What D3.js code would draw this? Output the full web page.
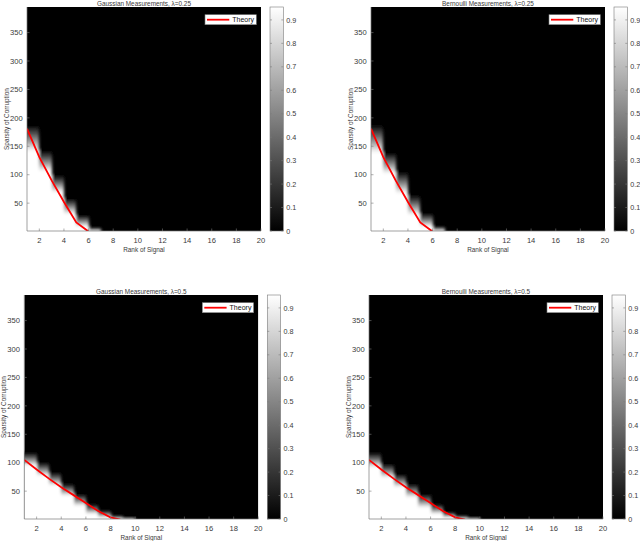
<!DOCTYPE html>
<html>
<head>
<meta charset="utf-8">
<script src="https://cdn.jsdelivr.net/npm/d3@7"></script>
<style>
  body { margin: 0; background: #fff; }
  svg { display: block; font-family: "Liberation Sans", Arial, Helvetica, sans-serif; }
</style>
</head>
<body>
<svg id="chart" width="640" height="541"></svg>
<script>
// ---- data ----
const rankTicks = [2, 4, 6, 8, 10, 12, 14, 16, 18, 20]
const sparsityTicks = [50, 100, 150, 200, 250, 300, 350]
const colorTicks = [0, 0.1, 0.2, 0.3, 0.4, 0.5, 0.6, 0.7, 0.8, 0.9]
const colorMax = 0.955

// theory curves (rank -> sparsity)
const theoryRank025 = [1, 2, 3, 4, 5, 6]
const theorySparsity025 = [181, 131, 90, 52, 16, 0]
const theoryRank05 = [1, 2, 3, 4, 5, 6, 7, 8, 8.8]
const theorySparsity05 = [105, 88, 72, 57, 43, 29, 15, 4, 0]

// heatmap columns [r, r+1], r = 1..19:
// *Black = sparsity above which success is 0, *White = below which success is ~1
const gauss025Black = [186, 141, 98, 57, 28, 6]
const gauss025White = [140, 105, 68, 30, 8, 0]
const bern025Black = [187, 138, 104, 63, 31, 8]
const bern025White = [137, 101, 66, 28, 8, 0]
const gauss05Black = [117, 100, 82, 62, 44, 26, 15, 6, 2]
const gauss05White = [94, 76, 59, 41, 23, 9, 3, 0, 0]
const bern05Black = [117, 97, 79, 62, 44, 26, 12, 6, 2]
const bern05White = [91, 73, 56, 38, 20, 9, 3, 0, 0]

const panels = [
  { title: "Gaussian Measurements, λ=0.25", x: 27, y: 7, black: gauss025Black, white: gauss025White,
    tr: theoryRank025, ts: theorySparsity025 },
  { title: "Bernoulli Measurements, λ=0.25", x: 371, y: 7, black: bern025Black, white: bern025White,
    tr: theoryRank025, ts: theorySparsity025 },
  { title: "Gaussian Measurements, λ=0.5", x: 24.3, y: 295, black: gauss05Black, white: gauss05White,
    tr: theoryRank05, ts: theorySparsity05 },
  { title: "Bernoulli Measurements, λ=0.5", x: 369, y: 295, black: bern05Black, white: bern05White,
    tr: theoryRank05, ts: theorySparsity05 },
]

const W = 234
const H = 224
const cbGap = 9
const cbW = 13.3
const axisColor = "#7a7a7a"
const textColor = "#3a3a3a"

const svg = d3.select("#chart")
const defs = svg.append("defs")
defs.append("filter").attr("id", "soft")
  .attr("x", "-5%").attr("y", "-5%").attr("width", "110%").attr("height", "110%")
  .append("feGaussianBlur").attr("stdDeviation", 1.4)

const grad = defs.append("linearGradient").attr("id", "cbgrad")
  .attr("x1", 0).attr("y1", 1).attr("x2", 0).attr("y2", 0)
grad.append("stop").attr("offset", 0).attr("stop-color", "#000")
grad.append("stop").attr("offset", 1).attr("stop-color", "#fff")

const gray = d3.scaleLinear().domain([0, colorMax]).range(["#000", "#fff"]).clamp(true)
const rampStops = d3.range(0, 11).map((k) => k / 10)

panels.forEach((p, pi) => {
  const x = d3.scaleLinear().domain([1, 20]).range([p.x, p.x + W])
  const y = d3.scaleLinear().domain([1, 395]).range([p.y + H, p.y])
  const g = svg.append("g")

  defs.append("clipPath").attr("id", "clip" + pi)
    .append("rect").attr("x", p.x).attr("y", p.y).attr("width", W).attr("height", H)

  const plot = g.append("g").attr("clip-path", `url(#clip${pi})`)
  plot.append("rect").attr("x", p.x).attr("y", p.y).attr("width", W).attr("height", H).attr("fill", "#000")

  // one column per rank step, success ramp from white to black
  const cols = p.black.map((b, c) => ({ r: c + 1, black: b, white: p.white[c] || 0, id: `col${pi}_${c}` }))
    .filter((d) => d.black > 0)
  cols.forEach((d) => {
    const lg = defs.append("linearGradient").attr("id", d.id).attr("gradientUnits", "userSpaceOnUse")
      .attr("x1", 0).attr("x2", 0).attr("y1", y(d.white)).attr("y2", y(d.black))
    rampStops.forEach((t) => lg.append("stop").attr("offset", t).attr("stop-color", gray(1 - t)))
  })
  plot.append("g").attr("filter", "url(#soft)")
    .selectAll("rect").data(cols).join("rect")
    .attr("shape-rendering", "crispEdges")
    .attr("x", (d) => (d.r === 1 ? x(d.r) - 6 : x(d.r)))
    .attr("width", (d) => x(d.r + 1) - x(d.r) + (d.r === 1 ? 6 : 0))
    .attr("y", (d) => y(d.black + 2))
    .attr("height", (d) => y(-10) - y(d.black + 2))
    .attr("fill", (d) => `url(#${d.id})`)

  // theory line
  const line = d3.line().x((d) => x(d[0])).y((d) => y(d[1]))
  plot.append("path").datum(d3.zip(p.tr, p.ts))
    .attr("d", line).attr("fill", "none").attr("stroke", "#f00").attr("stroke-width", 1.8)

  // axes lines
  g.append("line").attr("x1", p.x).attr("x2", p.x).attr("y1", p.y).attr("y2", p.y + H)
    .attr("stroke", axisColor).attr("stroke-width", 0.7)
  g.append("line").attr("x1", p.x).attr("x2", p.x + W).attr("y1", p.y + H).attr("y2", p.y + H)
    .attr("stroke", axisColor).attr("stroke-width", 0.7)

  // x ticks
  const xt = g.append("g").selectAll("g").data(rankTicks).join("g")
  xt.append("line").attr("x1", (d) => x(d)).attr("x2", (d) => x(d))
    .attr("y1", p.y + H).attr("y2", p.y + H - 2.5).attr("stroke", axisColor).attr("stroke-width", 0.6)
  xt.append("text").attr("x", (d) => x(d)).attr("y", p.y + H + 12.3)
    .attr("text-anchor", "middle").attr("font-size", 7.6).attr("fill", textColor).text((d) => d)

  // y ticks
  const yt = g.append("g").selectAll("g").data(sparsityTicks).join("g")
  yt.append("line").attr("x1", p.x).attr("x2", p.x + 2.5)
    .attr("y1", (d) => y(d)).attr("y2", (d) => y(d)).attr("stroke", axisColor).attr("stroke-width", 0.6)
  yt.append("text").attr("x", p.x - 4.3).attr("y", (d) => y(d) + 2.7)
    .attr("text-anchor", "end").attr("font-size", 7.6).attr("fill", textColor).text((d) => d)

  // labels
  g.append("text").attr("x", p.x + W / 2).attr("y", p.y + H + 21)
    .attr("text-anchor", "middle").attr("font-size", 6.4).attr("fill", textColor).text("Rank of Signal")
  g.append("text").attr("transform", `translate(${p.x - 18},${p.y + H / 2}) rotate(-90)`)
    .attr("text-anchor", "middle").attr("font-size", 6.4).attr("fill", textColor).text("Sparsity of Corruption")
  g.append("text").attr("x", p.x + W / 2).attr("y", p.y - 1.2)
    .attr("text-anchor", "middle").attr("font-size", 6.4).attr("fill", textColor).text(p.title)

  // legend
  const lx = p.x + W - 56
  const ly = p.y + 7.7
  g.append("rect").attr("x", lx).attr("y", ly).attr("width", 51.3).attr("height", 10)
    .attr("fill", "#fff").attr("stroke", axisColor).attr("stroke-width", 0.6)
  g.append("line").attr("x1", lx + 2).attr("x2", lx + 24.3).attr("y1", ly + 5).attr("y2", ly + 5)
    .attr("stroke", "#f00").attr("stroke-width", 1.8)
  g.append("text").attr("x", lx + 27.3).attr("y", ly + 7.6)
    .attr("font-size", 7).attr("fill", "#111").text("Theory")

  // colorbar
  const cx = p.x + W + cbGap
  const cy = d3.scaleLinear().domain([0, colorMax]).range([p.y + H, p.y])
  g.append("rect").attr("x", cx).attr("y", p.y).attr("width", cbW).attr("height", H)
    .attr("fill", "url(#cbgrad)").attr("stroke", axisColor).attr("stroke-width", 0.6)
  const ct = g.append("g").selectAll("g").data(colorTicks).join("g")
  ct.append("line").attr("x1", cx).attr("x2", cx + 2).attr("y1", (d) => cy(d)).attr("y2", (d) => cy(d))
    .attr("stroke", axisColor).attr("stroke-width", 0.6)
  ct.append("line").attr("x1", cx + cbW - 2).attr("x2", cx + cbW).attr("y1", (d) => cy(d)).attr("y2", (d) => cy(d))
    .attr("stroke", axisColor).attr("stroke-width", 0.6)
  ct.append("text").attr("x", cx + cbW + 3).attr("y", (d) => cy(d) + 2.6)
    .attr("font-size", 7.2).attr("fill", textColor).text((d) => d)
})
</script>
</body>
</html>
